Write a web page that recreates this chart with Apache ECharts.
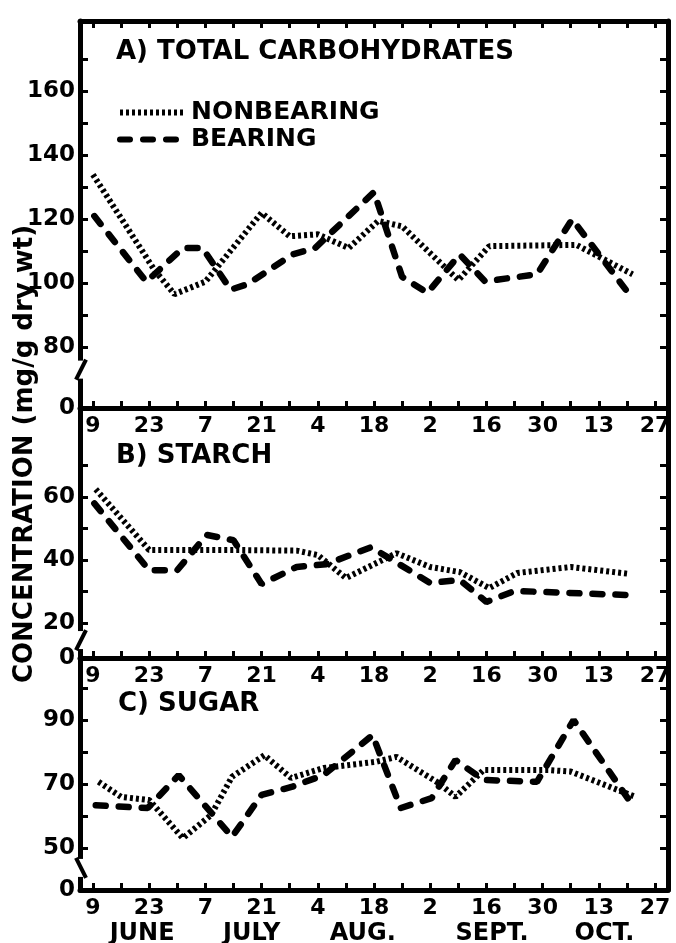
<!DOCTYPE html>
<html>
<head>
<meta charset="utf-8">
<script src="https://cdn.jsdelivr.net/npm/echarts@6.0.0/dist/echarts.min.js"></script>
<style>
  html, body { margin: 0; padding: 0; background: #fff; }
  #chart { width: 676px; height: 943px; }
</style>
</head>
<body>
<div id="chart"></div>
<script>
// x = weeks after June 9, a date label every 2 weeks
const dateLabels = ['9', '23', '7', '21', '4', '18', '2', '16', '30', '13', '27']
const labelWeeks = [0, 2, 4, 6, 8, 10, 12, 14, 16, 18, 20]
const weekTicks = [0, 1, 2, 3, 4, 5, 6, 7, 8, 9, 10, 11, 12, 13, 14, 15, 16, 17, 18, 19, 20]
const months = ['JUNE', 'JULY', 'AUG.', 'SEPT.', 'OCT.']
const monthPos = [1.75, 5.65, 9.6, 14.2, 18.2]

// A) total carbohydrates
const aNonX = [0, 2.2, 2.9, 4.0, 6.0, 7.0, 8.0, 9.1, 10.15, 11.0, 13.0, 14.1, 17.2, 19.2]
const aNonY = [134, 104, 96.6, 100.5, 122, 114.7, 115.3, 111, 119.5, 117.8, 101, 111.6, 112, 102.8]
const aBearX = [0.05, 1.9, 3.2, 3.9, 4.9, 5.5, 7.1, 7.9, 10.0, 11.0, 11.9, 13.05, 13.95, 15.8, 17.05, 19.0]
const aBearY = [121, 100.5, 111, 111, 98, 99.7, 109, 111, 128.5, 102, 97, 109, 100.6, 102.8, 120, 97.5]
// B) starch
const bNonX = [0.1, 2.0, 5.1, 7.25, 8.0, 9.0, 10.8, 12.0, 13.05, 14.1, 15.1, 17.0, 19.1]
const bNonY = [62.5, 43.2, 43.2, 43, 41.6, 34.3, 42.2, 37.8, 36.2, 31.1, 35.9, 37.8, 35.6]
const bBearX = [0.05, 2.0, 3.0, 4.05, 5.0, 6.0, 7.25, 8.3, 9.9, 12.0, 13.05, 14.0, 15.0, 19.0]
const bBearY = [58, 36.8, 36.8, 48, 46.3, 32.4, 37.8, 38.7, 44.1, 32.7, 33.7, 26.7, 30.2, 28.9]
// C) sugar
const cNonX = [0.2, 1.0, 2.0, 3.2, 4.2, 4.95, 6.1, 7.05, 8.2, 10.1, 10.8, 12.3, 12.9, 13.9, 16.2, 17.0, 19.3]
const cNonY = [70.7, 66, 65, 53.1, 60.3, 72.3, 79, 71.9, 75, 77, 78.5, 70.3, 66, 74.4, 74.4, 73.9, 66]
const cBearX = [0.1, 1.95, 3.05, 4.95, 6.0, 7.1, 8.2, 9.95, 10.95, 12.05, 12.9, 13.9, 15.8, 17.1, 19.2]
const cBearY = [63.4, 62.5, 72.8, 53.5, 66.6, 69.2, 72.8, 85.3, 62.5, 65.6, 77.5, 71.3, 70.7, 90, 63.4]

const yLabelsA = [80, 100, 120, 140, 160]
const yTicksA = [80, 90, 100, 110, 120, 130, 140, 150, 160, 170]
const yLabelsB = [20, 40, 60]
const yTicksB = [20, 30, 40, 50, 60, 70]
const yLabelsC = [50, 70, 90]
const yTicksC = [50, 60, 70, 80, 90, 100]

const FONT = 'DejaVu Sans'
const BLACK = '#000'

function xAxisBottom(grid) {
    return {
        type: 'value', gridIndex: grid, min: -0.46, max: 20.46, position: 'bottom',
        splitLine: { show: false },
        axisLine: { onZero: false, lineStyle: { color: BLACK, width: 5 } },
        axisTick: { inside: true, length: 7, customValues: weekTicks, lineStyle: { color: BLACK, width: 3 } },
        axisLabel: {
            customValues: labelWeeks, margin: 7,
            formatter: v => dateLabels[Math.round(v / 2)],
            color: BLACK, fontFamily: FONT, fontWeight: 'bold', fontSize: 22
        }
    }
}

function yAxisSide(grid, min, max, labels, ticks, side) {
    return {
        type: 'value', gridIndex: grid, min: min, max: max, position: side,
        splitLine: { show: false },
        axisLine: { onZero: false, lineStyle: { color: BLACK, width: 5 } },
        axisTick: { inside: true, length: 8, customValues: ticks, lineStyle: { color: BLACK, width: 3 } },
        axisLabel: {
            show: side === 'left',
            customValues: [min].concat(labels), margin: 5,
            formatter: v => (v === min ? '0' : String(v)),
            color: BLACK, fontFamily: FONT, fontWeight: 'bold', fontSize: 23
        }
    }
}

const dotted = { color: BLACK, width: 6, type: [3, 3], cap: 'butt' }
const dashed = { color: BLACK, width: 6.5, type: [10, 13], cap: 'round' }

function lineSeries(name, xs, ys, idx, style) {
    return {
        name: name, type: 'line', xAxisIndex: idx, yAxisIndex: idx * 2,
        data: xs.map((x, i) => [x, ys[i]]),
        symbol: 'none', lineStyle: style, itemStyle: { color: BLACK }, silent: true
    }
}

const titleStyle = { color: BLACK, fontFamily: FONT, fontWeight: 'bold', fontSize: 26 }

let myChart = echarts.init(document.getElementById('chart'))
myChart.setOption({
    animation: false,
    backgroundColor: '#fff',
    title: [
        { text: 'A) TOTAL CARBOHYDRATES', left: 116, top: 39, padding: 0, textStyle: titleStyle },
        { text: 'B) STARCH', left: 116, top: 443, padding: 0, textStyle: titleStyle },
        { text: 'C) SUGAR', left: 118, top: 691, padding: 0, textStyle: titleStyle }
    ],
    legend: {
        data: ['NONBEARING', 'BEARING'],
        orient: 'vertical', left: 117, top: 100, padding: 0,
        itemWidth: 66, itemHeight: 14, itemGap: 2, selectedMode: false,
        itemStyle: { opacity: 0 },
        lineStyle: { width: 6, color: BLACK },
        textStyle: { color: BLACK, fontFamily: FONT, fontWeight: 'bold', fontSize: 25 }
    },
    grid: [
        { left: 80, top: 21, width: 588, height: 387, outerBoundsMode: 'none' },
        { left: 80, top: 408, width: 588, height: 250, outerBoundsMode: 'none' },
        { left: 80, top: 658, width: 588, height: 232, outerBoundsMode: 'none' }
    ],
    xAxis: [
        xAxisBottom(0),
        xAxisBottom(1),
        xAxisBottom(2),
        {
            type: 'value', gridIndex: 0, min: -0.46, max: 20.46, position: 'top',
            splitLine: { show: false },
            axisLine: { onZero: false, lineStyle: { color: BLACK, width: 5 } },
            axisTick: { inside: true, length: 7, customValues: weekTicks, lineStyle: { color: BLACK, width: 3 } },
            axisLabel: { show: false }
        },
        {
            type: 'value', gridIndex: 2, min: -0.46, max: 20.46, position: 'bottom',
            splitLine: { show: false },
            axisLine: { show: false, onZero: false },
            axisTick: { show: false },
            axisLabel: {
                customValues: monthPos, margin: 32,
                formatter: v => months[monthPos.indexOf(v)],
                color: BLACK, fontFamily: FONT, fontWeight: 'bold', fontSize: 24
            }
        }
    ],
    yAxis: [
        yAxisSide(0, 61, 182, yLabelsA, yTicksA, 'left'),
        yAxisSide(0, 61, 182, yLabelsA, yTicksA, 'right'),
        yAxisSide(1, 8.9, 88.3, yLabelsB, yTicksB, 'left'),
        yAxisSide(1, 8.9, 88.3, yLabelsB, yTicksB, 'right'),
        yAxisSide(2, 36.9, 109.4, yLabelsC, yTicksC, 'left'),
        yAxisSide(2, 36.9, 109.4, yLabelsC, yTicksC, 'right')
    ],
    series: [
        lineSeries('NONBEARING', aNonX, aNonY, 0, dotted),
        lineSeries('BEARING', aBearX, aBearY, 0, dashed),
        lineSeries('NONBEARING', bNonX, bNonY, 1, dotted),
        lineSeries('BEARING', bBearX, bBearY, 1, dashed),
        lineSeries('NONBEARING', cNonX, cNonY, 2, dotted),
        lineSeries('BEARING', cBearX, cBearY, 2, dashed)
    ]
})

// axis breaks on the left axes and the vertical axis title
const breaks = [{ axis: 0, value: 73, dir: 1 }, { axis: 2, value: 14.6, dir: 1 }, { axis: 4, value: 43.8, dir: -1 }]
let marks = []
breaks.forEach(b => {
    const py = myChart.convertToPixel({ yAxisIndex: b.axis }, b.value)
    marks.push({ type: 'rect', z: 100, shape: { x: 75, y: py - 9, width: 10, height: 18 }, style: { fill: '#fff' } })
    marks.push({
        type: 'line', z: 101,
        shape: { x1: 76, y1: py + 10 * b.dir, x2: 86, y2: py - 10 * b.dir },
        style: { stroke: BLACK, lineWidth: 4 }
    })
})
marks.push({
    type: 'text', z: 101, x: 25, y: 454, rotation: Math.PI / 2,
    style: {
        text: 'CONCENTRATION (mg/g dry wt)', fill: BLACK,
        font: 'bold 26px "DejaVu Sans"', align: 'center', verticalAlign: 'middle'
    }
})
myChart.setOption({ graphic: marks })
</script>
</body>
</html>
